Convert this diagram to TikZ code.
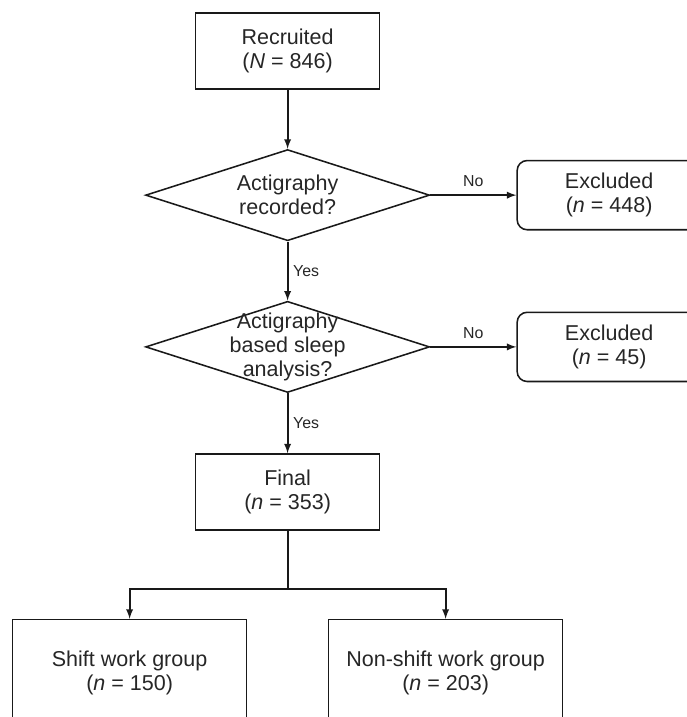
\documentclass[tikz,border=0pt]{standalone}
\usepackage{fontspec}
\setmainfont{Liberation Sans}
\usepackage{tikz}
\usetikzlibrary {
  positioning,
  shapes.geometric,
  arrows,
}
\tikzset{
  txt/.style = {
    font = \fontsize{15.3pt}{17pt}\selectfont,
    text = black!85,
    align = center
  },
  box/.style = {
    txt,
    rectangle,
    draw = black!90,
    line width = 1.1pt,
    minimum width = 4.6cm,
    minimum height = 1.9cm
  },
  excl/.style = {
    box,
    rounded corners = 0.25cm,
    minimum height = 1.73cm
  },
  group/.style = {
    box,
    minimum width = 5.85cm,
    minimum height = 2.65cm
  },
  decision/.style = {
    diamond,
    draw = black!90,
    line width = 1.1pt,
    minimum width = 7.1cm,
    minimum height = 2.28cm,
    label = {[txt]center:#1}
  },
  line/.style = {
    -latex,
    line width = 1.3pt,
    draw = black!90
  },
  tag/.style = {
    font = \fontsize{11.3pt}{13pt}\selectfont,
    text = black!85
  },
}

\begin{document}
\begin{tikzpicture}
  \useasboundingbox (0,0) rectangle (17.175,-17.925);
  \clip (0,0) rectangle (17.175,-17.925);
  \node[box] (R) at (7.19,-1.275) {Recruited\\(\textit{N} = 846)};
  \node[decision = {Actigraphy\\recorded?}, below = 1.475cm of R] (D1) {};
  \node[decision = {Actigraphy\\based sleep\\analysis?}, below = 1.475cm of D1] (D2) {};
  \node[box, below = 1.5cm of D2] (F) {Final\\(\textit{n} = 353)};
  \node[excl, right = 2.15cm of D1] (X1) {Excluded\\(\textit{n} = 448)};
  \node[excl, right = 2.15cm of D2] (X2) {Excluded\\(\textit{n} = 45)};
  \node[group, below = 2.2cm of F, xshift = -3.95cm] (S) {Shift work group\\(\textit{n} = 150)};
  \node[group, below = 2.2cm of F, xshift = 3.95cm] (NS) {Non-shift work group\\(\textit{n} = 203)};
  \coordinate[below = 1.45cm of F.south] (split);

  \draw[line] (R) -- (D1);
  \draw[line] (D1) -- node[tag, right] {Yes} (D2);
  \draw[line] (D2) -- node[tag, right] {Yes} (F);
  \draw[line] (D1) -- node[tag, above = 2pt] {No} (X1);
  \draw[line] (D2) -- node[tag, above = 2pt] {No} (X2);
  \draw[line, -] (F) -- (split);
  \draw[line] (split) -| (S);
  \draw[line] (split) -| (NS);
\end{tikzpicture}
\end{document}
